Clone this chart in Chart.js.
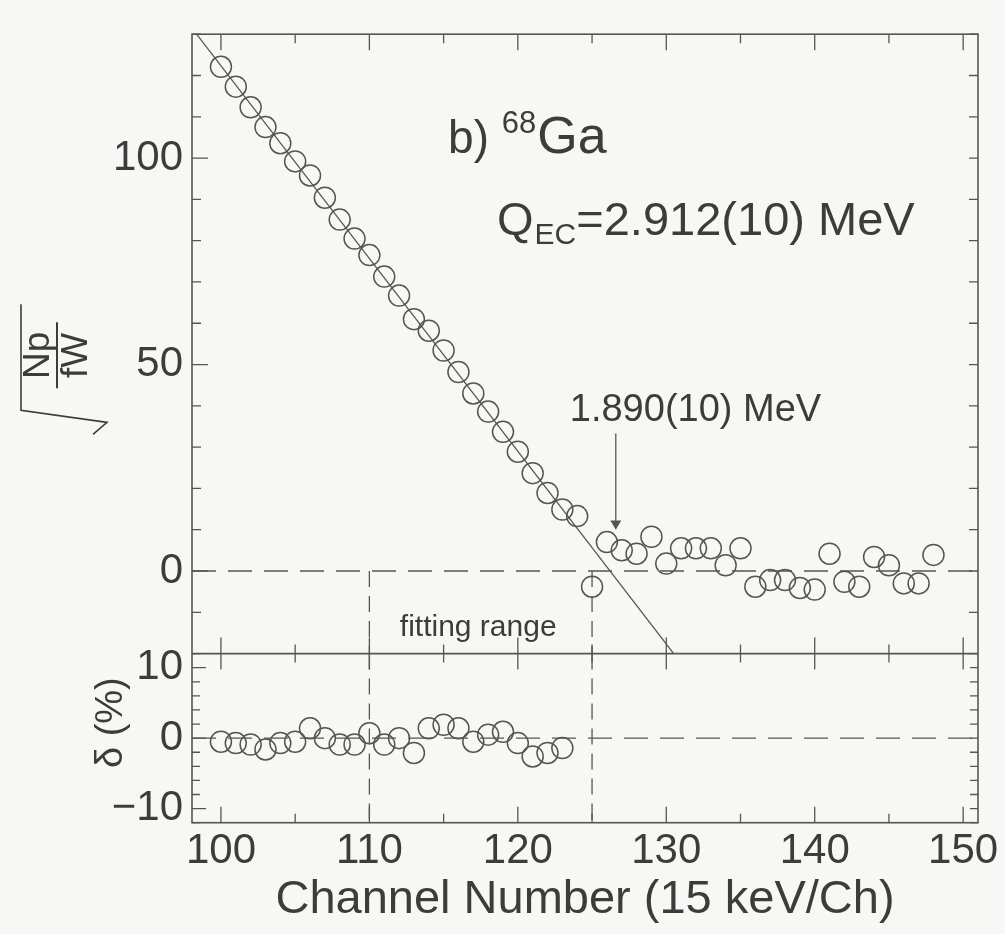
<!DOCTYPE html>
<html>
<head>
<meta charset="utf-8">
<title>68Ga Kurie plot</title>
<script src="https://cdn.jsdelivr.net/npm/chart.js@4.4.1/dist/chart.umd.min.js"></script>
<style>
  body { margin: 0; background: #f7f7f5; }
  #box { width: 1005px; height: 934px; }
</style>
</head>
<body>
<div id="box"><canvas id="kurie" width="1005" height="934"></canvas></div>
<script>
// sqrt(Np/fW) per channel
const channels = [100, 101, 102, 103, 104, 105, 106, 107, 108, 109,
  110, 111, 112, 113, 114, 115, 116, 117, 118, 119,
  120, 121, 122, 123, 124, 125, 126, 127, 128, 129,
  130, 131, 132, 133, 134, 135, 136, 137, 138, 139,
  140, 141, 142, 143, 144, 145, 146, 147, 148];
const kurieValues = [122.1, 117.3, 112.3, 107.5, 103.6, 99.2, 95.8, 90.4, 85.1, 80.5,
  76.5, 71.3, 66.7, 61.0, 58.2, 53.4, 48.2, 43.0, 38.6, 33.7,
  28.9, 23.7, 18.9, 14.9, 13.3, -3.8, 7.0, 5.0, 4.2, 8.3,
  1.8, 5.5, 5.5, 5.5, 1.4, 5.5, -3.8, -2.2, -2.2, -4.1,
  -4.5, 4.2, -2.6, -3.8, 3.4, 1.4, -3.0, -3.0, 3.9];

// fit residuals delta (%)
const residChannels = [100, 101, 102, 103, 104, 105, 106, 107, 108, 109,
  110, 111, 112, 113, 114, 115, 116, 117, 118, 119, 120, 121, 122, 123];
const residValues = [-0.5, -0.7, -0.9, -1.6, -0.7, -0.5, 1.4, 0, -0.9, -0.9,
  0.7, -0.9, 0, -2.1, 1.4, 1.9, 1.4, -0.5, 0.5, 0.9, -0.7, -2.6, -2.1, -1.4];

// straight line fit, ends of the drawn segment
const fitEndsX = [98.36, 130.5];
const fitEndsY = [130, -20];
const fittingRange = [110, 125];

// arrow to the 1.890 MeV level
const arrowX = 126.6;
const arrowFromTo = [33.3, 11.5];

const xTickLabels = [100, 110, 120, 130, 140, 150];
const yTickLabels = [0, 50, 100];
const deltaTickLabels = [-10, 0, 10];
const xMin = 98.05, xMax = 151;

const ink = '#3c3c3c';
const lineInk = '#555555';
const face = '"Liberation Sans", Arial, Helvetica, sans-serif';

const minus = v => (v < 0 ? '\u2212' + Math.abs(v) : String(v));

const circleStyle = {
  showLine: false,
  pointStyle: 'circle',
  pointRadius: 10.5,
  pointHoverRadius: 10.5,
  pointBorderColor: '#555',
  pointBorderWidth: 1.5,
  pointBackgroundColor: 'rgba(0,0,0,0)'
};

const seg = (xs, ys) => xs.map((x, i) => ({ x: x, y: ys[i] }));

const plainLine = {
  showLine: true,
  pointRadius: 0,
  borderColor: lineInk,
  borderWidth: 1.3,
  fill: false
};

// frame, inside ticks and all the text labels
const decorations = {
  id: 'decorations',
  beforeDraw(chart) {
    const ctx = chart.ctx;
    ctx.save();
    ctx.fillStyle = '#f7f7f5';
    ctx.fillRect(0, 0, chart.width, chart.height);
    ctx.restore();
  },
  afterDraw(chart) {
    const { ctx, chartArea: a } = chart;
    const x = chart.scales.x, y = chart.scales.y, yd = chart.scales.yd;
    ctx.save();
    ctx.strokeStyle = lineInk;
    ctx.lineWidth = 1.6;
    ctx.strokeRect(a.left, a.top, a.right - a.left, a.bottom - a.top);
    ctx.beginPath();
    ctx.moveTo(a.left, y.bottom);
    ctx.lineTo(a.right, y.bottom);
    ctx.stroke();

    ctx.lineWidth = 1.3;
    ctx.beginPath();
    x.ticks.forEach(t => {
      const px = x.getPixelForValue(t.value);
      const len = xTickLabels.includes(t.value) ? 16 : 9;
      ctx.moveTo(px, a.top); ctx.lineTo(px, a.top + len);
      ctx.moveTo(px, y.bottom); ctx.lineTo(px, y.bottom - len);
      ctx.moveTo(px, yd.top); ctx.lineTo(px, yd.top + len);
      ctx.moveTo(px, a.bottom); ctx.lineTo(px, a.bottom - len);
    });
    y.ticks.forEach(t => {
      const py = y.getPixelForValue(t.value);
      const len = yTickLabels.includes(t.value) ? 16 : 9;
      ctx.moveTo(a.left, py); ctx.lineTo(a.left + len, py);
      ctx.moveTo(a.right, py); ctx.lineTo(a.right - 9, py);
    });
    yd.ticks.forEach(t => {
      const py = yd.getPixelForValue(t.value);
      const len = deltaTickLabels.includes(t.value) ? 14 : 8;
      ctx.moveTo(a.left, py); ctx.lineTo(a.left + len, py);
      ctx.moveTo(a.right, py); ctx.lineTo(a.right - 8, py);
    });
    ctx.stroke();

    ctx.fillStyle = ink;
    ctx.textBaseline = 'alphabetic';
    ctx.textAlign = 'left';

    // b) 68Ga
    let tx = x.getPixelForValue(115.3);
    let ty = y.getPixelForValue(101.2);
    ctx.font = '46px ' + face;
    ctx.fillText('b)', tx, ty);
    tx += ctx.measureText('b) ').width;
    ctx.font = '31px ' + face;
    ctx.fillText('68', tx, ty - 20);
    tx += ctx.measureText('68').width + 1;
    ctx.font = '52px ' + face;
    ctx.fillText('Ga', tx, ty);

    // Q_EC line
    tx = x.getPixelForValue(118.6);
    ty = y.getPixelForValue(81.4);
    ctx.font = '47px ' + face;
    ctx.fillText('Q', tx, ty);
    tx += ctx.measureText('Q').width + 1;
    ctx.font = '30px ' + face;
    ctx.fillText('EC', tx, ty + 9);
    tx += ctx.measureText('EC').width;
    ctx.font = '47px ' + face;
    ctx.fillText('=2.912(10) MeV', tx, ty);

    ctx.font = '38px ' + face;
    ctx.fillText('1.890(10) MeV', x.getPixelForValue(123.5), y.getPixelForValue(36.3));

    ctx.font = '30px ' + face;
    ctx.fillText('fitting range', x.getPixelForValue(112.05), y.getPixelForValue(-15.8));

    // delta (%) axis title
    ctx.save();
    ctx.translate(112, yd.getPixelForValue(2.2));
    ctx.rotate(-Math.PI / 2);
    ctx.textAlign = 'center';
    ctx.textBaseline = 'middle';
    ctx.font = '38px ' + face;
    ctx.fillText('\u03b4 (%)', 0, 0);
    ctx.restore();

    // sqrt(Np/fW) axis title
    ctx.save();
    ctx.translate(57, y.getPixelForValue(51.5));
    ctx.rotate(-Math.PI / 2);
    ctx.textAlign = 'center';
    ctx.font = '37px ' + face;
    ctx.textBaseline = 'bottom';
    ctx.fillText('Np', 3, 0);
    ctx.textBaseline = 'top';
    ctx.fillText('fW', 3, 1);
    ctx.strokeStyle = ink;
    ctx.lineWidth = 2;
    ctx.beginPath();
    ctx.moveTo(-30, 0); ctx.lineTo(36, 0);
    ctx.stroke();
    ctx.lineWidth = 1.6;
    ctx.beginPath();
    ctx.moveTo(54, -36);
    ctx.lineTo(-52, -36);
    ctx.lineTo(-64, 50);
    ctx.lineTo(-76, 36);
    ctx.stroke();
    ctx.restore();

    ctx.restore();
  }
};

new Chart(document.getElementById('kurie'), {
  type: 'scatter',
  data: {
    datasets: [
      Object.assign({ data: seg(fitEndsX, fitEndsY), yAxisID: 'y' }, plainLine),
      Object.assign({ data: seg([xMin, xMax], [0, 0]), yAxisID: 'y' }, plainLine, { borderDash: [24, 12] }),
      Object.assign({ data: seg([xMin, xMax], [0, 0]), yAxisID: 'yd' }, plainLine, { borderDash: [24, 12] }),
      Object.assign({ data: seg([fittingRange[0], fittingRange[0]], [0, -20]), yAxisID: 'y' }, plainLine, { borderDash: [16, 9] }),
      Object.assign({ data: seg([fittingRange[1], fittingRange[1]], [0, -20]), yAxisID: 'y' }, plainLine, { borderDash: [16, 9] }),
      Object.assign({ data: seg([fittingRange[0], fittingRange[0]], [12, -12]), yAxisID: 'yd' }, plainLine, { borderDash: [16, 9] }),
      Object.assign({ data: seg([fittingRange[1], fittingRange[1]], [12, -12]), yAxisID: 'yd' }, plainLine, { borderDash: [16, 9] }),
      Object.assign({ data: seg([arrowX, arrowX], arrowFromTo), yAxisID: 'y' }, plainLine, {
        pointRadius: [0, 5], pointStyle: 'triangle', rotation: 180,
        pointBackgroundColor: lineInk, pointBorderColor: lineInk
      }),
      Object.assign({ data: seg(channels, kurieValues), yAxisID: 'y' }, circleStyle),
      Object.assign({ data: seg(residChannels, residValues), yAxisID: 'yd' }, circleStyle)
    ]
  },
  options: {
    responsive: false,
    animation: false,
    devicePixelRatio: 1,
    layout: { padding: { top: 30, right: 27, left: 0, bottom: 0 } },
    plugins: { legend: { display: false }, tooltip: { enabled: false } },
    scales: {
      x: {
        type: 'linear', position: 'bottom', min: xMin, max: xMax,
        grid: { display: false, drawTicks: false }, border: { display: false },
        ticks: {
          stepSize: 5, includeBounds: false, autoSkip: false, maxRotation: 0,
          padding: 4, color: ink, font: { family: face, size: 42 },
          callback: v => (xTickLabels.includes(v) ? String(v) : '')
        },
        title: {
          display: true, text: 'Channel Number (15 keV/Ch)', color: ink,
          font: { family: face, size: 47 }, padding: { top: 0, bottom: 6 }
        },
        afterFit: s => { s.height = 111.3; }
      },
      yd: {
        type: 'linear', position: 'left', stack: 'panels', stackWeight: 1,
        min: -12, max: 12,
        grid: { display: false, drawTicks: false }, border: { display: false },
        ticks: {
          stepSize: 2, autoSkip: false, padding: 9, color: ink,
          font: { family: face, size: 42 },
          callback: v => (deltaTickLabels.includes(v) ? minus(v) : '')
        },
        afterFit: s => { s.width = 192; }
      },
      y: {
        type: 'linear', position: 'left', stack: 'panels', stackWeight: 3.663,
        min: -20, max: 130,
        grid: { display: false, drawTicks: false }, border: { display: false },
        ticks: {
          stepSize: 10, autoSkip: false, padding: 9, color: ink,
          font: { family: face, size: 42 },
          callback: v => (yTickLabels.includes(v) ? minus(v) : '')
        },
        afterFit: s => { s.width = 192; }
      }
    }
  },
  plugins: [decorations]
});
</script>
</body>
</html>
